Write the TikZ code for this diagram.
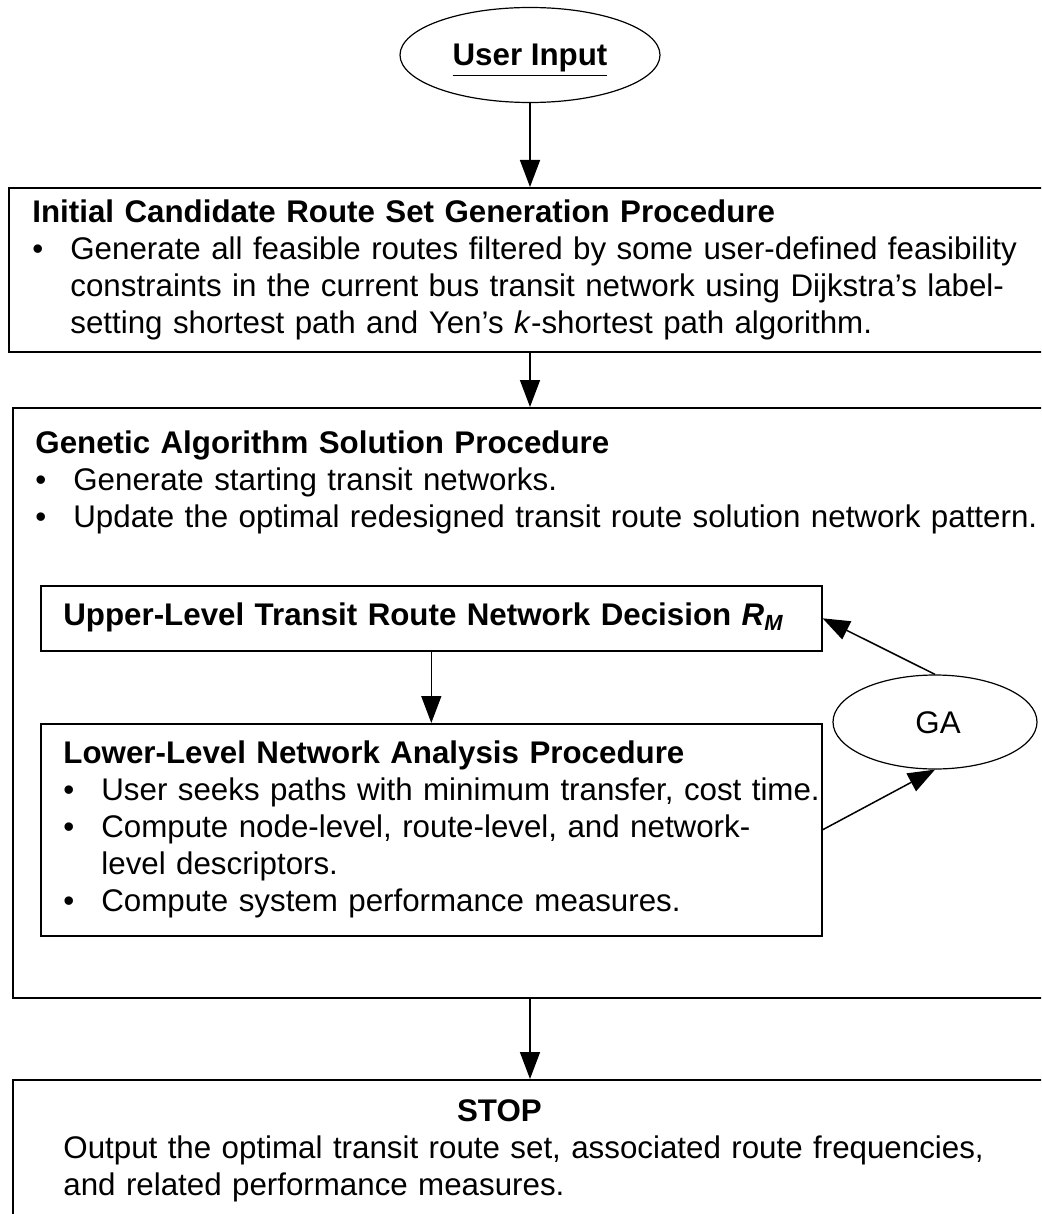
\documentclass[tikz,border=0pt]{standalone}
\usepackage{fontspec}
\setmainfont{Liberation Sans}
\usetikzlibrary{arrows.meta,shapes.geometric,positioning}
\tikzset{
    frame/.style={draw, rectangle, line width=1pt, anchor=north west, inner sep=0pt},
    subframe/.style={draw, rectangle, line width=0.8pt, anchor=north west, inner sep=0pt},
    oval/.style={draw, ellipse, line width=0.6pt, inner sep=0pt},
    txt/.style={anchor=base west, inner sep=0pt, align=left, text width=510pt},
    flow/.style={-{Triangle[length=13.5pt,width=10pt]}, line width=0.75pt}
}
\newcommand{\bul}{\makebox[19pt][l]{\textbullet}}
\newcommand{\bulgap}{\hspace*{19pt}}

\begin{document}
\begin{tikzpicture}[x=0.5pt, y=-0.5pt, font=\fontsize{15.65}{18.5}\selectfont]
    \useasboundingbox (0,0) rectangle (1041,1214);
    \clip (0,0) rectangle (1041,1214);
    % frames
    \node[oval, minimum width=130pt, minimum height=47.5pt] (user) at (530,55) {};
    \node[frame, minimum width=526pt, minimum height=82pt] (box1) at (8,187) {};
    \node[frame, minimum width=524pt, minimum height=295pt] (box2) at (12,407) {};
    \node[subframe, minimum width=390.5pt, minimum height=32.5pt] (upper) at (40,585) {};
    \node[subframe, minimum width=390.5pt, minimum height=106pt] (lower) at (40,723) {};
    \node[oval, minimum width=102pt, minimum height=47pt] (ga) at (935,722) {};
    \node[frame, minimum width=524pt, minimum height=90pt] (stop) at (12,1079) {};
    % texts
    \node[inner sep=0pt, anchor=base] (usertxt) at (530,66) {\textbf{\underline{User Input}}};
    \node[inner sep=0pt, anchor=base] (gatxt) at (938,733) {GA};
    \node[txt] (box1txt) at (32,222) {\textbf{Initial Candidate Route Set Generation Procedure}\\
        \bul Generate all feasible routes filtered by some user-defined feasibility\\
        \bulgap constraints in the current bus transit network using Dijkstra’s label-\\
        \bulgap setting shortest path and Yen’s \textit{k}-shortest path algorithm.};
    \node[txt] (box2txt) at (35,453) {\textbf{Genetic Algorithm Solution Procedure}\\
        \bul Generate starting transit networks.\\
        \bul Update the optimal redesigned transit route solution network pattern.};
    \node[txt] (uppertxt) at (63,625) {\textbf{Upper-Level Transit Route Network Decision \textit{R}\textsubscript{\textit{M}}}};
    \node[txt] (lowertxt) at (63,763) {\textbf{Lower-Level Network Analysis Procedure}\\
        \bul User seeks paths with minimum transfer, cost time.\\
        \bul Compute node-level, route-level, and network-\\
        \bulgap level descriptors.\\
        \bul Compute system performance measures.};
    \node[txt] (stoptxt) at (63,1121) {\makebox[436pt][c]{\textbf{STOP}}\\
        Output the optimal transit route set, associated route frequencies,\\
        and related performance measures.};
    % connectors
    \draw[flow] (user.south) -- (user.south |- box1.north);
    \draw[flow] (user.south |- box1.south) -- (user.south |- box2.north);
    \draw[flow] (upper.south) -- (lower.north);
    \draw[flow] (ga.north) -- (upper.east);
    \draw[flow] (lower.east) -- (ga.south);
    \draw[flow] (user.south |- box2.south) -- (user.south |- stop.north);
\end{tikzpicture}
\end{document}
